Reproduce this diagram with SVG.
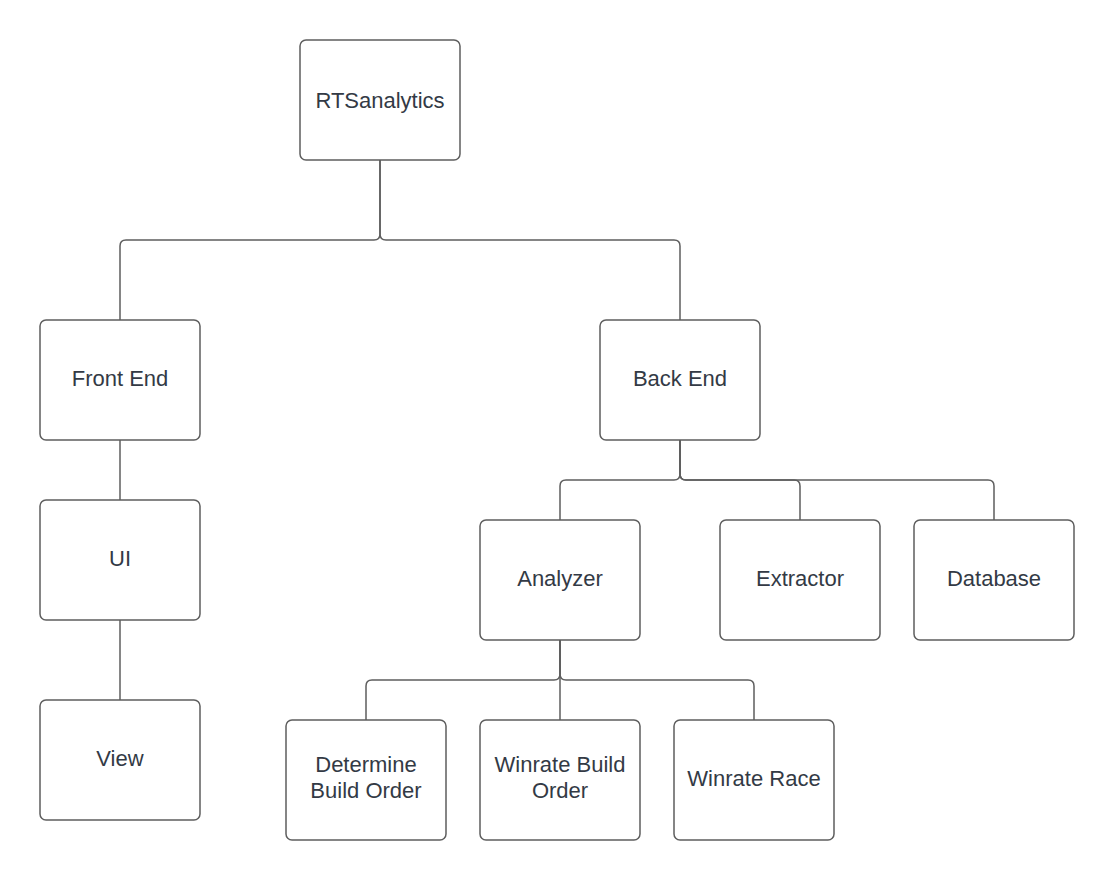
<svg xmlns="http://www.w3.org/2000/svg" width="1114" height="880" viewBox="0 0 1114 880">
<style>
.box{fill:#ffffff;stroke:#5e5e5e;stroke-width:1.5}
.lbl{font-family:"Liberation Sans",Arial,sans-serif;font-size:22px;fill:#333a45;text-anchor:middle}
.con{fill:none;stroke:#5e5e5e;stroke-width:1.5}
</style>
<rect width="1114" height="880" fill="#ffffff"/>
<g id="connectors">
<path class="con" d="M380,160 V234 Q380,240 374,240 H126 Q120,240 120,246 V320"/>
<path class="con" d="M380,160 V234 Q380,240 386,240 H674 Q680,240 680,246 V320"/>
<path class="con" d="M120,440 V500"/>
<path class="con" d="M120,620 V700"/>
<path class="con" d="M680,440 V474 Q680,480 674,480 H566 Q560,480 560,486 V520"/>
<path class="con" d="M680,440 V474 Q680,480 686,480 H794 Q800,480 800,486 V520"/>
<path class="con" d="M680,440 V474 Q680,480 686,480 H988 Q994,480 994,486 V520"/>
<path class="con" d="M560,640 V674 Q560,680 554,680 H372 Q366,680 366,686 V720"/>
<path class="con" d="M560,640 V720"/>
<path class="con" d="M560,640 V674 Q560,680 566,680 H748 Q754,680 754,686 V720"/>
</g>
<g id="rts"><rect class="box" x="300" y="40" width="160" height="120" rx="6"/><text class="lbl" x="380" y="108">RTSanalytics</text></g>
<g id="frontend"><rect class="box" x="40" y="320" width="160" height="120" rx="6"/><text class="lbl" x="120" y="386">Front End</text></g>
<g id="backend"><rect class="box" x="600" y="320" width="160" height="120" rx="6"/><text class="lbl" x="680" y="386">Back End</text></g>
<g id="ui"><rect class="box" x="40" y="500" width="160" height="120" rx="6"/><text class="lbl" x="120" y="566">UI</text></g>
<g id="view"><rect class="box" x="40" y="700" width="160" height="120" rx="6"/><text class="lbl" x="120" y="766">View</text></g>
<g id="analyzer"><rect class="box" x="480" y="520" width="160" height="120" rx="6"/><text class="lbl" x="560" y="586">Analyzer</text></g>
<g id="extractor"><rect class="box" x="720" y="520" width="160" height="120" rx="6"/><text class="lbl" x="800" y="586">Extractor</text></g>
<g id="database"><rect class="box" x="914" y="520" width="160" height="120" rx="6"/><text class="lbl" x="994" y="586">Database</text></g>
<g id="determine"><rect class="box" x="286" y="720" width="160" height="120" rx="6"/><text class="lbl" x="366" y="772">Determine</text><text class="lbl" x="366" y="798">Build Order</text></g>
<g id="winratebuild"><rect class="box" x="480" y="720" width="160" height="120" rx="6"/><text class="lbl" x="560" y="772">Winrate Build</text><text class="lbl" x="560" y="798">Order</text></g>
<g id="winraterace"><rect class="box" x="674" y="720" width="160" height="120" rx="6"/><text class="lbl" x="754" y="786">Winrate Race</text></g>
</svg>
